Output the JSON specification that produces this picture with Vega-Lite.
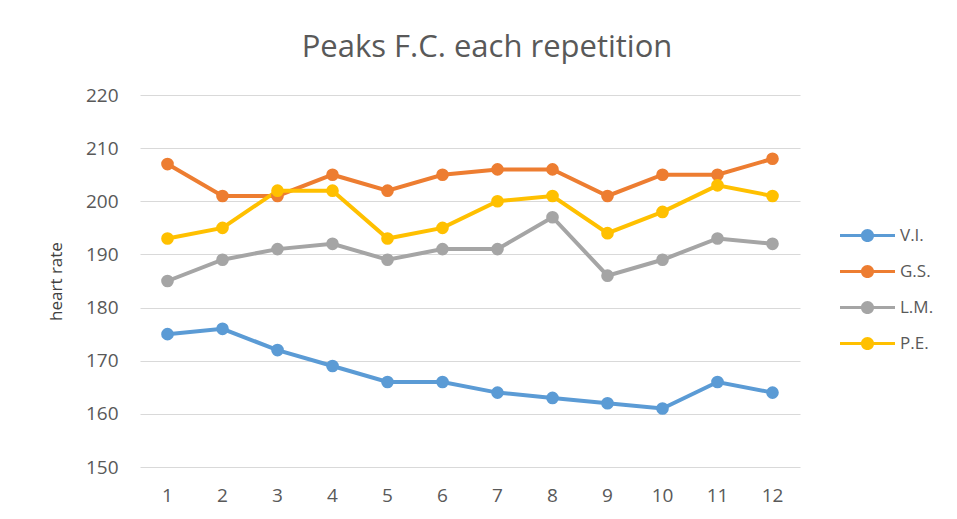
{
  "$schema": "https://vega.github.io/schema/vega-lite/v6.json",
  "width": 660,
  "height": 372,
  "autosize": {"type": "none"},
  "padding": {"left": 140, "top": 95, "right": 157, "bottom": 52},
  "background": "white",
  "title": {
    "text": "Peaks F.C. each repetition",
    "fontSize": 31,
    "font": "Open Sans",
    "fontWeight": "normal",
    "color": "#595959",
    "anchor": "middle",
    "dx": 17,
    "offset": 22
  },
  "data": {
    "values": [
      {"rep": 1, "series": "V.I.", "hr": 175}, {"rep": 2, "series": "V.I.", "hr": 176}, {"rep": 3, "series": "V.I.", "hr": 172}, {"rep": 4, "series": "V.I.", "hr": 169}, {"rep": 5, "series": "V.I.", "hr": 166}, {"rep": 6, "series": "V.I.", "hr": 166}, {"rep": 7, "series": "V.I.", "hr": 164}, {"rep": 8, "series": "V.I.", "hr": 163}, {"rep": 9, "series": "V.I.", "hr": 162}, {"rep": 10, "series": "V.I.", "hr": 161}, {"rep": 11, "series": "V.I.", "hr": 166}, {"rep": 12, "series": "V.I.", "hr": 164},
      {"rep": 1, "series": "G.S.", "hr": 207}, {"rep": 2, "series": "G.S.", "hr": 201}, {"rep": 3, "series": "G.S.", "hr": 201}, {"rep": 4, "series": "G.S.", "hr": 205}, {"rep": 5, "series": "G.S.", "hr": 202}, {"rep": 6, "series": "G.S.", "hr": 205}, {"rep": 7, "series": "G.S.", "hr": 206}, {"rep": 8, "series": "G.S.", "hr": 206}, {"rep": 9, "series": "G.S.", "hr": 201}, {"rep": 10, "series": "G.S.", "hr": 205}, {"rep": 11, "series": "G.S.", "hr": 205}, {"rep": 12, "series": "G.S.", "hr": 208},
      {"rep": 1, "series": "L.M.", "hr": 185}, {"rep": 2, "series": "L.M.", "hr": 189}, {"rep": 3, "series": "L.M.", "hr": 191}, {"rep": 4, "series": "L.M.", "hr": 192}, {"rep": 5, "series": "L.M.", "hr": 189}, {"rep": 6, "series": "L.M.", "hr": 191}, {"rep": 7, "series": "L.M.", "hr": 191}, {"rep": 8, "series": "L.M.", "hr": 197}, {"rep": 9, "series": "L.M.", "hr": 186}, {"rep": 10, "series": "L.M.", "hr": 189}, {"rep": 11, "series": "L.M.", "hr": 193}, {"rep": 12, "series": "L.M.", "hr": 192},
      {"rep": 1, "series": "P.E.", "hr": 193}, {"rep": 2, "series": "P.E.", "hr": 195}, {"rep": 3, "series": "P.E.", "hr": 202}, {"rep": 4, "series": "P.E.", "hr": 202}, {"rep": 5, "series": "P.E.", "hr": 193}, {"rep": 6, "series": "P.E.", "hr": 195}, {"rep": 7, "series": "P.E.", "hr": 200}, {"rep": 8, "series": "P.E.", "hr": 201}, {"rep": 9, "series": "P.E.", "hr": 194}, {"rep": 10, "series": "P.E.", "hr": 198}, {"rep": 11, "series": "P.E.", "hr": 203}, {"rep": 12, "series": "P.E.", "hr": 201}
    ]
  },
  "encoding": {
    "x": {
      "field": "rep",
      "type": "ordinal",
      "scale": {"type": "band", "paddingInner": 0, "paddingOuter": 0},
      "axis": {
        "title": null,
        "labelAngle": 0,
        "domain": false,
        "ticks": false,
        "grid": false,
        "labelFont": "Open Sans",
        "labelFontSize": 19,
        "labelColor": "#595959",
        "labelPadding": 19
      }
    },
    "y": {
      "field": "hr",
      "type": "quantitative",
      "scale": {"domain": [150, 220], "nice": false, "zero": false},
      "axis": {
        "title": "heart rate",
        "titleFont": "Open Sans",
        "titleFontSize": 17,
        "titleFontWeight": "normal",
        "titleColor": "#404040",
        "titlePadding": 20,
        "values": [150, 160, 170, 180, 190, 200, 210, 220],
        "domain": false,
        "ticks": false,
        "gridColor": "#d9d9d9",
        "gridWidth": 1,
        "labelFont": "Open Sans",
        "labelFontSize": 19,
        "labelColor": "#595959",
        "labelPadding": 22
      }
    },
    "color": {
      "field": "series",
      "type": "nominal",
      "sort": ["V.I.", "G.S.", "L.M.", "P.E."],
      "scale": {
        "domain": ["V.I.", "G.S.", "L.M.", "P.E."],
        "range": ["#5B9BD5", "#ED7D31", "#A5A5A5", "#FFC000"]
      },
      "legend": {
        "title": null,
        "orient": "none",
        "legendX": 700,
        "legendY": 113,
        "padding": 0,
        "rowPadding": -1,
        "symbolType": "M-1,-0.055 L1,-0.055 L1,0.055 L-1,0.055 Z M0.24,0 A0.24,0.24 0 1,1 -0.24,0 A0.24,0.24 0 1,1 0.24,0 Z",
        "symbolSize": 3025,
        "symbolStrokeWidth": 0,
        "labelFont": "Open Sans",
        "labelFontSize": 17,
        "labelColor": "#595959",
        "labelOffset": 5
      }
    }
  },
  "layer": [
    {"mark": {"type": "line", "strokeWidth": 4}},
    {"mark": {"type": "circle", "size": 160, "opacity": 1}}
  ],
  "config": {"view": {"stroke": null}}
}
